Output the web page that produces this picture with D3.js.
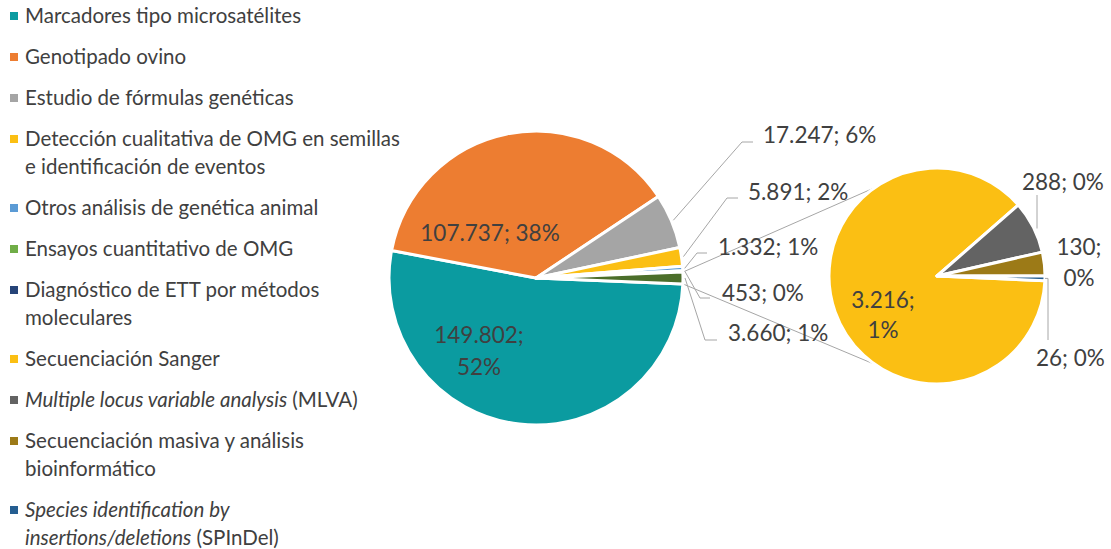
<!DOCTYPE html>
<html lang="es">
<head>
<meta charset="UTF-8">
<title>pie of pie</title>
<script src="https://d3js.org/d3.v7.min.js"></script>
<style>
  body { margin: 0; background: #fff; }
  text { font-family: Lato, "Open Sans", sans-serif; fill: #404040; }
</style>
</head>
<body>
<svg width="1111" height="549"></svg>
<script>
  // datos
  var categories = [
    "Marcadores tipo microsatélites",
    "Genotipado ovino",
    "Estudio de fórmulas genéticas",
    "Detección cualitativa de OMG en semillas e identificación de eventos",
    "Otros análisis de genética animal",
    "Ensayos cuantitativo de OMG",
    "Diagnóstico de ETT por métodos moleculares",
    "Secuenciación Sanger",
    "Multiple locus variable analysis (MLVA)",
    "Secuenciación masiva y análisis bioinformático",
    "Species identification by insertions/deletions (SPInDel)"
  ];
  var values = [149802, 107737, 17247, 5891, 1332, 453, 0, 3216, 288, 130, 26];
  var percents = ["52%", "38%", "6%", "2%", "1%", "0%", "", "1%", "0%", "0%", "0%"];
  var otherPercent = "1%";
  var colors = ["#0b9ba0", "#ed7d31", "#a5a5a5", "#fbbf13", "#5b9bd5", "#70ad47",
                "#264478", "#fbbf13", "#636363", "#9c7a17", "#255e91"];
  var otherColor = "#4b6e2a";

  // texto de la leyenda (segmentos: [texto, cursiva])
  var legendLines = [
    [[["Marcadores tipo microsatélites", false]]],
    [[["Genotipado ovino", false]]],
    [[["Estudio de fórmulas genéticas", false]]],
    [[["Detección cualitativa de OMG en semillas", false]], [["e identificación de eventos", false]]],
    [[["Otros análisis de genética animal", false]]],
    [[["Ensayos cuantitativo de OMG", false]]],
    [[["Diagnóstico de ETT por métodos", false]], [["moleculares", false]]],
    [[["Secuenciación Sanger", false]]],
    [[["Multiple locus variable analysis", true], [" (MLVA)", false]]],
    [[["Secuenciación masiva y análisis", false]], [["bioinformático", false]]],
    [[["Species identification by", true]], [["insertions/deletions", true], [" (SPInDel)", false]]]
  ];

  var svg = d3.select("svg");
  var es = d3.formatLocale({ decimal: ",", thousands: ".", grouping: [3], currency: ["", "€"] });
  var fmt = es.format(",d");

  var nMain = 7;
  var mainVals = values.slice(0, nMain);
  var secVals = values.slice(nMain);
  var otherVal = d3.sum(secVals);
  var mainData = mainVals.map(function (v, i) { return { v: v, i: i }; });
  mainData.push({ v: otherVal, i: -1 });
  var total = d3.sum(mainData, function (d) { return d.v; });

  // pie principal
  var c1 = { x: 536, y: 278 }, r1 = 147;
  var a0 = Math.PI / 2 + Math.PI * otherVal / total;
  var pie1 = d3.pie().sort(null).value(function (d) { return d.v; })
    .startAngle(a0).endAngle(a0 + 2 * Math.PI);
  var arcs1 = pie1(mainData);
  var arc1 = d3.arc().innerRadius(0).outerRadius(r1);

  // pie secundario
  var c2 = { x: 937, y: 276 }, r2 = 108;
  var secData = secVals.map(function (v, i) { return { v: v, i: i + nMain }; });
  var b0 = Math.PI / 2 + 2 * Math.PI * secVals[secVals.length - 1] / otherVal;
  var pie2 = d3.pie().sort(null).value(function (d) { return d.v; })
    .startAngle(b0).endAngle(b0 + 2 * Math.PI);
  var arcs2 = pie2(secData);
  var arc2 = d3.arc().innerRadius(0).outerRadius(r2);

  function pt(c, r, a) { return [c.x + r * Math.sin(a), c.y - r * Math.cos(a)]; }

  // lineas de union entre los dos pies
  var oth = arcs1[arcs1.length - 1];
  var joins = [
    [pt(c1, r1, oth.startAngle), pt(c2, r2, 2 * Math.PI - Math.PI * 0.194)],
    [pt(c1, r1, oth.endAngle), pt(c2, r2, Math.PI + Math.PI * 0.194)]
  ];
  svg.append("g").selectAll("line").data(joins).enter().append("line")
    .attr("x1", function (d) { return d[0][0]; }).attr("y1", function (d) { return d[0][1]; })
    .attr("x2", function (d) { return d[1][0]; }).attr("y2", function (d) { return d[1][1]; })
    .attr("stroke", "#a6a6a6").attr("stroke-width", 1);

  svg.append("g").attr("transform", "translate(" + c1.x + "," + c1.y + ")")
    .selectAll("path").data(arcs1).enter().append("path")
    .attr("d", arc1)
    .attr("fill", function (d) { return d.data.i < 0 ? otherColor : colors[d.data.i]; })
    .attr("stroke", "#fff").attr("stroke-width", 3).attr("stroke-linejoin", "round");

  svg.append("g").attr("transform", "translate(" + c2.x + "," + c2.y + ")")
    .selectAll("path").data(arcs2).enter().append("path")
    .attr("d", arc2)
    .attr("fill", function (d) { return colors[d.data.i]; })
    .attr("stroke", "#fff").attr("stroke-width", 3).attr("stroke-linejoin", "round");

  // etiquetas
  function labelText(i) { return fmt(values[i]) + "; " + percents[i]; }
  var labels = svg.append("g").attr("font-size", 22.5);

  function addText(x, y, s, anchor) {
    labels.append("text").attr("x", x).attr("y", y).attr("dy", "0.35em")
      .attr("text-anchor", anchor || "start").text(s);
  }

  // etiquetas dentro del pie principal
  addText(490, 233, labelText(1), "middle");
  addText(479, 335, fmt(values[0]) + ";", "middle");
  addText(479, 367, percents[0], "middle");

  // etiquetas exteriores con lineas guia: [indice del arco, texto x, texto y, codo x, codo y, fin x]
  var outside = [
    [2, 763, 135, 742, 142, 753],
    [3, 748, 192, 727, 198, 738],
    [4, 718, 247, 697, 253, 707],
    [5, 722, 293, 700, 298, 710],
    [7, 728, 333, 705, 340, 717]
  ];
  outside.forEach(function (o) {
    var a = arcs1[o[0]];
    var p = pt(c1, r1 + 2, (a.startAngle + a.endAngle) / 2);
    svg.append("polyline")
      .attr("points", [p, [o[3], o[4]], [o[5], o[4]]].map(function (q) { return q.join(","); }).join(" "))
      .attr("fill", "none").attr("stroke", "#a6a6a6").attr("stroke-width", 1);
    var s = a.data.i < 0 ? fmt(otherVal) + "; " + otherPercent : labelText(a.data.i);
    addText(o[1], o[2], s);
  });

  // etiquetas del pie secundario
  addText(883, 300, fmt(values[7]) + ";", "middle");
  addText(883, 330, percents[7], "middle");

  var a288 = arcs2[1];
  var p288 = pt(c2, r2 - 12, (a288.startAngle + a288.endAngle) / 2);
  svg.append("line").attr("x1", 1037).attr("y1", p288[1] - 4).attr("x2", 1037).attr("y2", 195)
    .attr("stroke", "#a6a6a6");
  addText(1022, 182, labelText(8));

  addText(1079, 247, fmt(values[9]) + ";", "middle");
  addText(1079, 278, percents[9], "middle");

  var a26 = arcs2[3];
  var p26 = pt(c2, r2, (a26.startAngle + a26.endAngle) / 2);
  svg.append("polyline")
    .attr("points", [p26, [1048, p26[1]], [1048, 340]].map(function (q) { return q.join(","); }).join(" "))
    .attr("fill", "none").attr("stroke", "#a6a6a6");
  addText(1036, 358, labelText(10));

  // leyenda
  var legend = svg.append("g").attr("font-size", 20.5);
  var y = 16;
  legendLines.forEach(function (lines, i) {
    legend.append("rect").attr("x", 10).attr("y", y - 4).attr("width", 8).attr("height", 8)
      .attr("fill", colors[i]);
    lines.forEach(function (segs, j) {
      var t = legend.append("text").attr("x", 25).attr("y", y + j * 28).attr("dy", "0.35em");
      segs.forEach(function (s) {
        t.append("tspan").attr("font-style", s[1] ? "italic" : "normal").text(s[0]);
      });
    });
    y += 41 + 28 * (lines.length - 1);
  });
</script>
</body>
</html>
